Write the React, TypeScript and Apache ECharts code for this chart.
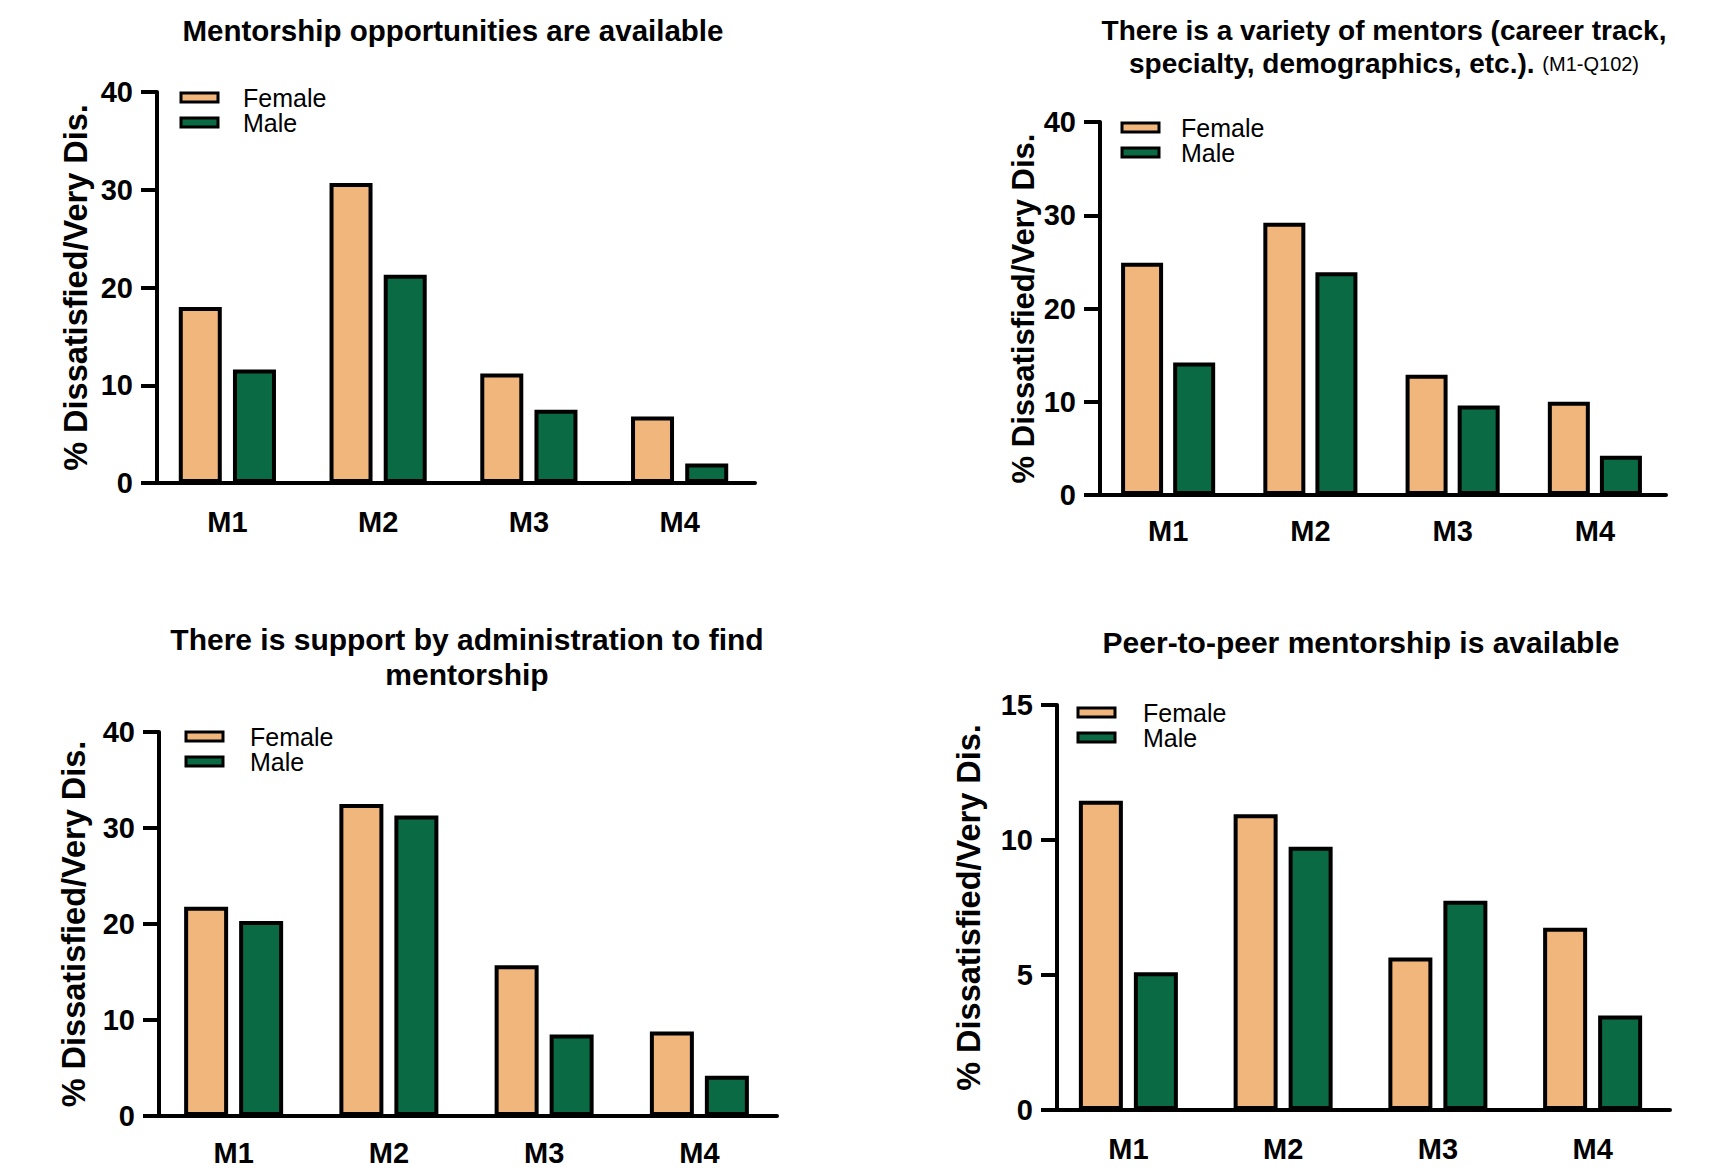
import React, { useEffect, useRef } from "react";
import * as echarts from "echarts";

const categories = ["M1", "M2", "M3", "M4"];
const seriesNames = ["Female", "Male"];

// Panel 1: Mentorship opportunities are available
const p1Female = [18.0, 30.7, 11.2, 6.8];
const p1Male = [11.6, 21.3, 7.5, 2.0];
// Panel 2: There is a variety of mentors
const p2Female = [24.9, 29.2, 12.9, 10.0];
const p2Male = [14.2, 23.9, 9.6, 4.2];
// Panel 3: There is support by administration to find mentorship
const p3Female = [21.8, 32.5, 15.7, 8.8];
const p3Male = [20.3, 31.3, 8.5, 4.2];
// Panel 4: Peer-to-peer mentorship is available
const p4Female = [11.45, 10.95, 5.65, 6.75];
const p4Male = [5.1, 9.75, 7.75, 3.5];

const yMaxes = [40, 40, 40, 15];
const yIntervals = [10, 10, 10, 5];

const titles = [
  "Mentorship opportunities are available",
  "There is a variety of mentors (career track,\nspecialty, demographics, etc.). {s|(M1-Q102)}",
  "There is support by administration to find\nmentorship",
  "Peer-to-peer mentorship is available",
];
const yAxisName = "% Dissatisfied/Very Dis.";

const FONT = "'Liberation Sans', Arial, Helvetica, sans-serif";
const FEMALE_COLOR = "#F0B67B";
const MALE_COLOR = "#0A6A43";

const panels = [
  {
    female: p1Female, male: p1Male,
    grid: { left: 152, top: 92, width: 603, height: 391 }, yOffset: -5,
    title: { x: 453, top: 14, lh: 33, size: 29.5 },
    legend: { left: 179.5, top: 85, pad: 20 },
    nameGap: 65, nameSize: 32.5, barWidth: 43, barGap: "26%", xMargin: 24,
  },
  {
    female: p2Female, male: p2Male,
    grid: { left: 1097, top: 122, width: 569, height: 373 }, yOffset: -3,
    title: { x: 1384, top: 14, lh: 33, size: 28 },
    legend: { left: 1120.5, top: 115, pad: 17 },
    nameGap: 61, nameSize: 31, barWidth: 42, barGap: "24%", xMargin: 21,
  },
  {
    female: p3Female, male: p3Male,
    grid: { left: 156, top: 732, width: 621, height: 384 }, yOffset: -3,
    title: { x: 467, top: 622, lh: 35, size: 30 },
    legend: { left: 184.5, top: 724, pad: 22 },
    nameGap: 69, nameSize: 32.5, barWidth: 44, barGap: "25%", xMargin: 22,
  },
  {
    female: p4Female, male: p4Male,
    grid: { left: 1051, top: 705, width: 619, height: 405 }, yOffset: -6,
    title: { x: 1361, top: 626, lh: 33, size: 30 },
    legend: { left: 1076.5, top: 700, pad: 23 },
    nameGap: 72, nameSize: 32.5, barWidth: 44, barGap: "25%", xMargin: 24,
  },
];

export default function App() {
  const ref = useRef<HTMLDivElement>(null);
  useEffect(() => {
    if (!ref.current) return;
    const chart = echarts.init(ref.current, null, { renderer: "svg" });
    const axisLineStyle = { color: "#000", width: 4 };
    const option: any = {
      animation: false,
      backgroundColor: "#fff",
      textStyle: { fontFamily: FONT },
      title: panels.map((p, i) => ({
        text: titles[i],
        left: p.title.x,
        top: p.title.top,
        textAlign: "center",
        padding: 0,
        textStyle: {
          fontFamily: FONT,
          fontSize: p.title.size,
          fontWeight: "bold",
          color: "#000",
          lineHeight: p.title.lh,
          rich: { s: { fontSize: 20, fontWeight: "normal", fontFamily: FONT, color: "#000", lineHeight: p.title.lh } },
        },
      })),
      legend: panels.map((p) => ({
        orient: "vertical",
        left: p.legend.left,
        top: p.legend.top,
        padding: 0,
        itemGap: 0,
        itemWidth: 37,
        itemHeight: 9,
        icon: "rect",
        selectedMode: false,
        data: seriesNames,
        itemStyle: { borderColor: "#000", borderWidth: 3 },
        textStyle: { fontFamily: FONT, fontSize: 25, color: "#000", lineHeight: 24, padding: [0, 0, 0, p.legend.pad] },
      })),
      grid: panels.map((p) => ({ ...p.grid, containLabel: false })),
      xAxis: panels.map((p, i) => ({
        gridIndex: i,
        type: "category",
        data: categories,
        axisLine: { lineStyle: axisLineStyle },
        axisTick: { alignWithLabel: true, length: 17, lineStyle: axisLineStyle },
        axisLabel: { fontFamily: FONT, fontSize: 29, fontWeight: "bold", color: "#000", margin: p.xMargin },
        splitLine: { show: false },
      })),
      yAxis: panels.map((p, i) => ({
        gridIndex: i,
        type: "value",
        min: 0,
        max: yMaxes[i],
        interval: yIntervals[i],
        offset: p.yOffset,
        axisLine: { show: true, lineStyle: axisLineStyle },
        axisTick: { show: true, length: 16, lineStyle: axisLineStyle },
        axisLabel: { fontFamily: FONT, fontSize: 29, fontWeight: "bold", color: "#000", margin: 24 },
        splitLine: { show: false },
        name: yAxisName,
        nameLocation: "middle",
        nameGap: p.nameGap,
        nameTextStyle: { fontFamily: FONT, fontSize: p.nameSize, fontWeight: "bold", color: "#000" },
      })),
      series: panels.flatMap((p, i) => [
        {
          name: seriesNames[0],
          type: "bar",
          xAxisIndex: i,
          yAxisIndex: i,
          data: p.female,
          barWidth: p.barWidth,
          barGap: p.barGap,
          itemStyle: { color: FEMALE_COLOR, borderColor: "#000", borderWidth: 4 },
        },
        {
          name: seriesNames[1],
          type: "bar",
          xAxisIndex: i,
          yAxisIndex: i,
          data: p.male,
          barWidth: p.barWidth,
          barGap: p.barGap,
          itemStyle: { color: MALE_COLOR, borderColor: "#000", borderWidth: 4 },
        },
      ]),
    };
    chart.setOption(option);
    return () => chart.dispose();
  }, []);
  return (
    <div
      ref={ref}
      style={{ position: "fixed", left: 0, top: 0, width: 1712, height: 1171, background: "#fff" }}
    />
  );
}
